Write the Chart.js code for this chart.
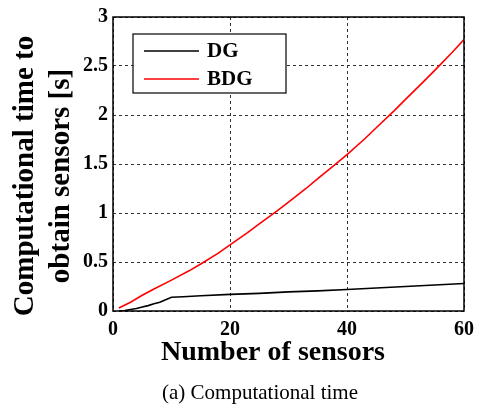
<!DOCTYPE html>
<html>
<head>
<meta charset="utf-8">
<script src="https://cdn.jsdelivr.net/npm/chart.js@4"></script>
<style>
  html, body { margin: 0; padding: 0; background: #fff; }
  #wrap { width: 481px; height: 412px; }
</style>
</head>
<body>
<div id="wrap"><canvas id="chart" width="481" height="412"></canvas></div>
<script>
/* computational time vs number of sensors */

const dgSensors  = [1, 2, 3, 4, 5, 6, 7, 8, 9, 10, 12, 15, 20, 25, 30, 35, 40, 45, 50, 55, 60];
const dgTime     = [0, 0.005, 0.015, 0.025, 0.04, 0.055, 0.075, 0.09, 0.115, 0.14, 0.145, 0.155, 0.17, 0.18, 0.195, 0.205, 0.22, 0.235, 0.25, 0.265, 0.28];

const bdgSensors = [1, 3, 5, 7, 10, 13, 15, 18, 20, 23, 25, 28, 30, 33, 35, 38, 40, 43, 45, 48, 50, 53, 55, 58, 60];
const bdgTime    = [0.03, 0.09, 0.16, 0.225, 0.315, 0.41, 0.48, 0.59, 0.675, 0.80, 0.89, 1.02, 1.11, 1.25, 1.35, 1.495, 1.595, 1.755, 1.87, 2.04, 2.16, 2.335, 2.455, 2.64, 2.77];

const xTickStep = 20;
const yTickStep = 0.5;

const serif = "'Liberation Serif', 'Times New Roman', serif";

const toPoints = (xs, ys) => xs.map((x, i) => ({ x, y: ys[i] }));

// box around plot, inner legend, axis titles and caption
const decorations = {
  id: 'decorations',
  afterDraw(chart) {
    const { ctx, chartArea: a } = chart;
    ctx.save();

    ctx.strokeStyle = '#000';
    ctx.lineWidth = 1.5;
    ctx.strokeRect(a.left, a.top, a.right - a.left, a.bottom - a.top);

    // legend
    ctx.fillStyle = '#fff';
    ctx.fillRect(133, 34, 153, 59);
    ctx.lineWidth = 1.2;
    ctx.strokeRect(133, 34, 153, 59);
    ctx.font = `bold 21px ${serif}`;
    ctx.textBaseline = 'middle';
    ctx.textAlign = 'left';
    chart.data.datasets.forEach((ds, i) => {
      const y = 51 + i * 28;
      ctx.strokeStyle = ds.borderColor;
      ctx.lineWidth = 1.6;
      ctx.beginPath();
      ctx.moveTo(144, y);
      ctx.lineTo(199, y);
      ctx.stroke();
      ctx.fillStyle = '#000';
      ctx.fillText(ds.label, 207, y + 1);
    });

    // axis titles
    ctx.fillStyle = '#000';
    ctx.textAlign = 'center';
    ctx.font = `bold 28px ${serif}`;
    ctx.fillText('Number of sensors', 273, 353);

    ctx.save();
    ctx.translate(0, 176);
    ctx.rotate(-Math.PI / 2);
    ctx.font = `bold 29px ${serif}`;
    ctx.fillText('Computational time to', 0, 26);
    ctx.fillText('obtain sensors [s]', 0, 62);
    ctx.restore();

    // caption
    ctx.font = `21px ${serif}`;
    ctx.fillText('(a) Computational time', 260, 393);

    ctx.restore();
  }
};

new Chart(document.getElementById('chart'), {
  type: 'line',
  data: {
    datasets: [
      {
        label: 'DG',
        data: toPoints(dgSensors, dgTime),
        borderColor: '#000000',
        borderWidth: 1.6,
        pointRadius: 0,
        tension: 0
      },
      {
        label: 'BDG',
        data: toPoints(bdgSensors, bdgTime),
        borderColor: '#ff0000',
        borderWidth: 1.6,
        pointRadius: 0,
        tension: 0
      }
    ]
  },
  options: {
    responsive: false,
    animation: false,
    layout: { padding: { left: 0, right: 13, top: 16, bottom: 71 } },
    plugins: {
      legend: { display: false },
      tooltip: { enabled: false }
    },
    scales: {
      x: {
        type: 'linear',
        min: 0,
        max: 60,
        ticks: { stepSize: xTickStep, color: '#000', padding: 7, font: { family: serif, size: 20, weight: 'bold' } },
        grid: { color: '#333', lineWidth: 1, drawTicks: false },
        border: { display: false, dash: [3, 3] },
        afterFit(scale) { scale.height = 30; }
      },
      y: {
        type: 'linear',
        min: 0,
        max: 3,
        ticks: {
          stepSize: yTickStep, color: '#000', padding: 5,
          font: { family: serif, size: 20, weight: 'bold' },
          callback: v => String(+v.toFixed(1))
        },
        grid: { color: '#333', lineWidth: 1, drawTicks: false },
        border: { display: false, dash: [3, 3] },
        afterFit(scale) { scale.width = 113; }
      }
    }
  },
  plugins: [decorations]
});
</script>
</body>
</html>
